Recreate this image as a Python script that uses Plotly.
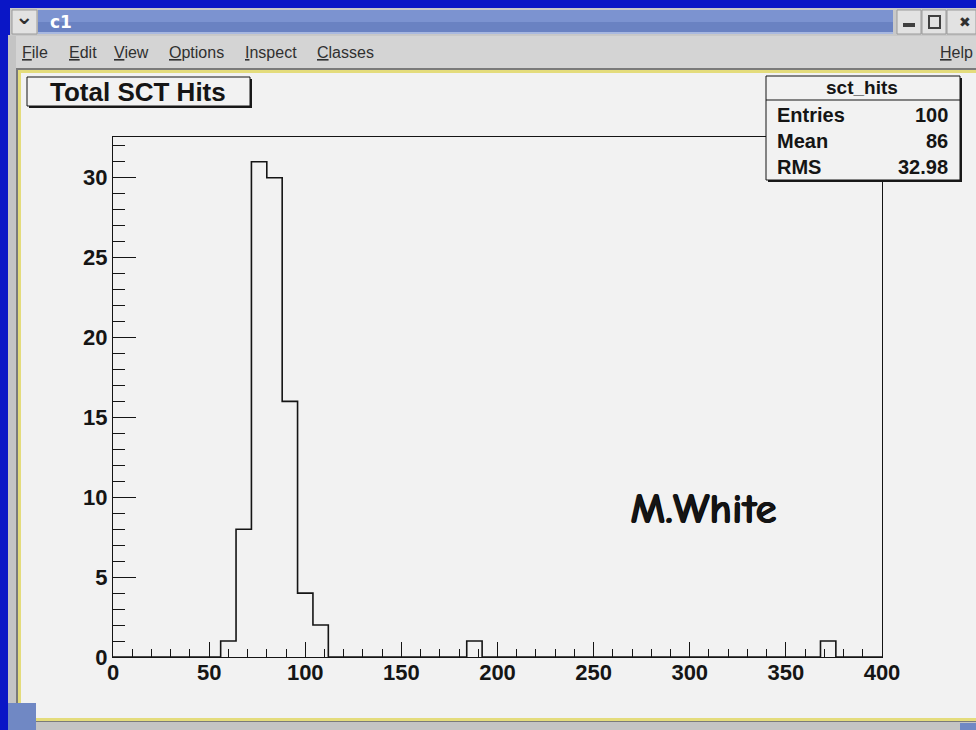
import plotly.graph_objects as go

W, H = 976, 730

# histogram "sct_hits": 50 bins of width 8 between 0 and 400
bin_edges = list(range(0, 408, 8))
counts = [0, 0, 0, 0, 0, 0, 0, 1, 8, 31,
          30, 16, 4, 2, 0, 0, 0, 0, 0, 0,
          0, 0, 0, 1, 0, 0, 0, 0, 0, 0,
          0, 0, 0, 0, 0, 0, 0, 0, 0, 0,
          0, 0, 0, 0, 0, 0, 1, 0, 0, 0]

hist_title = "Total SCT Hits"
stats_name = "sct_hits"
stats_labels = ["Entries", "Mean", "RMS"]
stats_values = ["100", "86", "32.98"]
signature = "M.White"

menu_items = [("File", 20), ("Edit", 67), ("View", 112), ("Options", 167),
              ("Inspect", 243), ("Classes", 315)]

BLUE = "#0a16c6"
CANVAS = "#f2f2f2"
YELLOW = "#e4dc7c"
MENU = "#d4d4d4"
INK = "#151515"


def px(x):
    return x / W


def py(y):
    return 1 - y / H


def rect(x0, y0, x1, y1, fill, line=None, lw=0, layer="below"):
    return dict(type="rect", xref="paper", yref="paper", layer=layer,
                x0=px(x0), x1=px(x1), y0=py(y1), y1=py(y0),
                fillcolor=fill, line=dict(color=line or fill, width=lw))


def hline(x0, x1, y, color, lw=1, layer="below"):
    return dict(type="line", xref="paper", yref="paper", layer=layer,
                x0=px(x0), x1=px(x1), y0=py(y), y1=py(y),
                line=dict(color=color, width=lw))


def label(text, x, y, size, anchor="left", color=INK, bold=False, family="Liberation Sans"):
    return dict(text=text, xref="paper", yref="paper", x=px(x), y=py(y),
                xanchor=anchor, yanchor="middle", showarrow=False,
                font=dict(size=size, color=color, family=family,
                          weight="bold" if bold else "normal"))


fig = go.Figure()

fig.add_trace(go.Scatter(
    x=bin_edges, y=counts + [counts[-1]], mode="lines", line_shape="hv",
    line=dict(color=INK, width=1.6), hoverinfo="skip", showlegend=False))

shapes = []
# window decoration
shapes.append(rect(8, 35, 976, 730, "#c4c4c4"))
shapes.append(rect(10, 8, 976, 36, "#c8c8c8"))
shapes.append(rect(38, 10, 893, 34, "#7c93d0"))
shapes.append(rect(38, 22, 893, 34, "#6a82c2"))
shapes.append(hline(38, 893, 33, "#a8b8e0", 2))
shapes.append(rect(12, 10, 37, 34, "#e2e2e2", "#9a9a9a", 1))
shapes.append(rect(897, 10, 921, 34, "#e2e2e2", "#9a9a9a", 1))
shapes.append(rect(922, 10, 946, 34, "#e2e2e2", "#9a9a9a", 1))
shapes.append(rect(947, 10, 976, 34, "#e2e2e2", "#9a9a9a", 1))
shapes.append(rect(903, 23, 915, 27, "#404040"))
shapes.append(rect(929, 16, 940, 28, "rgba(0,0,0,0)", "#404040", 2))
shapes.append(rect(16, 36, 976, 68, MENU))
# canvas with yellow border
shapes.append(rect(16, 68, 976, 722, "#7a7a7a"))
shapes.append(rect(18, 70, 976, 721, YELLOW))
shapes.append(rect(21, 73, 976, 718, CANVAS))
shapes.append(rect(8, 703, 36, 730, "#7088c4"))
shapes.append(rect(960, 723, 976, 730, "#7088c4"))

# title box with shadow
shapes.append(rect(29, 79, 252, 108, "#1a1a1a", layer="above"))
shapes.append(rect(27, 77, 250, 106, CANVAS, INK, 1, layer="above"))
# stats box with shadow
shapes.append(rect(768, 78, 962, 182, "#1a1a1a", layer="above"))
shapes.append(rect(766, 76, 960, 180, CANVAS, INK, 1, layer="above"))
shapes.append(hline(766, 960, 100, INK, 1, layer="above"))

annotations = []
annotations.append(label("c1", 48, 22, 17, color="white", bold=True, family="DejaVu Sans"))
annotations.append(label("\u2304", 24, 17, 22, anchor="center", color="#303030", bold=True, family="DejaVu Sans"))
annotations.append(label("\u2716", 965, 22, 14, anchor="center", color="#303030", family="DejaVu Sans"))
for name, x in menu_items:
    annotations.append(label("<u>" + name[0] + "</u>" + name[1:], x, 53, 16, color="#303030"))
annotations.append(label("<u>H</u>elp", 938, 53, 16, color="#303030"))
annotations.append(label(hist_title, 138, 92, 26, anchor="center", bold=True))
annotations.append(label(stats_name, 862, 88, 19, anchor="center", bold=True))
for i, (lab, val) in enumerate(zip(stats_labels, stats_values)):
    y = 115 + i * 26
    annotations.append(label(lab, 775, y, 20, bold=True))
    annotations.append(label(val, 950, y, 20, anchor="right", bold=True))
sig = label(signature, 703, 509, 43, anchor="center", bold=True,
            family="Comic Sans MS, Comic Neue, DejaVu Sans")
sig["font"]["shadow"] = "1px 0px 0px #000"
annotations.append(sig)

tick_font = dict(family="Liberation Sans", size=22, color=INK, weight="bold")

fig.update_layout(
    width=W, height=H,
    margin=dict(l=0, r=0, t=0, b=0),
    paper_bgcolor=BLUE, plot_bgcolor=CANVAS,
    shapes=shapes, annotations=annotations,
    showlegend=False,
    xaxis=dict(domain=[px(113), px(882)], range=[0, 400], tick0=0, dtick=50,
               automargin=False, ticklabelstandoff=-4,
               ticks="inside", ticklen=15, tickwidth=1, tickcolor=INK,
               minor=dict(dtick=10, ticks="inside", ticklen=8, tickwidth=1, tickcolor=INK),
               showline=True, linecolor=INK, linewidth=1, mirror=True,
               showgrid=False, zeroline=False, tickfont=tick_font, fixedrange=True),
    yaxis=dict(domain=[py(657), py(137)], range=[0, 32.55], tick0=0, dtick=5,
               automargin=False,
               ticks="inside", ticklen=23, tickwidth=1, tickcolor=INK,
               minor=dict(dtick=1, ticks="inside", ticklen=12, tickwidth=1, tickcolor=INK),
               showline=True, linecolor=INK, linewidth=1, mirror=True,
               showgrid=False, zeroline=False, tickfont=tick_font, fixedrange=True),
)

# drop the page's default body margin so the figure sits at the window origin
fig.write_html("out.html", config={"displayModeBar": False},
               post_script="document.body.style.margin='0';document.body.style.overflow='hidden';")
